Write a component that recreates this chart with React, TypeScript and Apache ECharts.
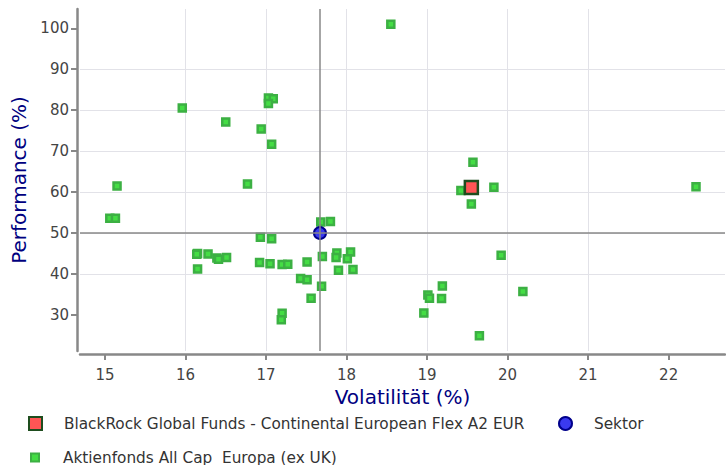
import React, { useEffect, useRef } from "react";
import * as echarts from "echarts";

const fundName = "BlackRock Global Funds - Continental European Flex A2 EUR";
const sectorName = "Sektor";
const peerName = "Aktienfonds All Cap  Europa (ex UK)";

const xTicks = [15, 16, 17, 18, 19, 20, 21, 22];
const yTicks = [30, 40, 50, 60, 70, 80, 90, 100];

const fundPoint = [19.55, 61.1];
const sectorPoint = [17.67, 50.0];

const peerVol = [
  18.55, 15.96, 16.5, 16.94, 17.03, 17.09, 17.03, 17.07, 16.77, 15.15,
  15.06, 15.13, 16.15, 16.14, 16.28, 16.39, 16.41, 16.51, 16.15, 17.68,
  17.8, 16.93, 17.07, 16.92, 17.05, 17.2, 17.27, 17.51, 17.7, 17.88,
  17.87, 18.05, 18.01, 17.9, 18.08, 17.43, 17.51, 17.69, 17.56, 17.2,
  17.19, 19.01, 19.03, 19.19, 19.18, 18.96, 19.65, 19.42, 19.83, 19.55,
  19.57, 19.92, 20.19, 22.34,
];
const peerPerf = [
  101.0, 80.5, 77.1, 75.4, 83.0, 82.8, 81.6, 71.7, 62.0, 61.5,
  53.6, 53.6, 45.0, 44.8, 44.9, 43.9, 43.6, 44.0, 41.2, 52.7,
  52.8, 49.0, 48.6, 42.8, 42.5, 42.3, 42.4, 42.9, 44.3, 45.1,
  44.0, 45.4, 43.7, 40.9, 41.1, 38.9, 38.6, 37.0, 34.1, 30.4,
  28.8, 34.9, 34.1, 37.1, 34.0, 30.5, 24.9, 60.4, 61.2, 57.1,
  67.3, 44.6, 35.7, 61.3,
];

const FONT = "DejaVu Sans";

export default function App() {
  const ref = useRef<HTMLDivElement>(null);
  useEffect(() => {
    if (!ref.current) return;
    const chart = echarts.init(ref.current, undefined, { renderer: "svg" });
    const peerData = peerVol.map((v, i) => [v, peerPerf[i]]);
    const axisCommon = {
      type: "value" as const,
      offset: 3,
      axisLine: { show: true, lineStyle: { color: "#888", width: 2.5 } },
      axisTick: { show: true, length: 6, lineStyle: { color: "#888", width: 2 } },
      splitLine: {
        show: true,
        showMinLine: false,
        showMaxLine: false,
        lineStyle: { color: "#e2e2e8", width: 1 },
      },
      nameLocation: "middle" as const,
      nameTextStyle: { color: "#000080", fontSize: 20, fontFamily: FONT },
    };
    chart.setOption({
      animation: false,
      grid: { left: 80, right: 1, top: 9, bottom: 114, containLabel: false },
      xAxis: {
        ...axisCommon,
        min: 14.69,
        max: 22.7,
        splitNumber: 8,
        name: "Volatilität (%)",
        nameGap: 31,
        axisTick: { ...axisCommon.axisTick, customValues: xTicks },
        axisLabel: {
          customValues: xTicks,
          margin: 13,
          color: "#444",
          fontSize: 15,
          fontFamily: FONT,
        },
      },
      yAxis: {
        ...axisCommon,
        min: 21.2,
        max: 104.7,
        splitNumber: 8,
        name: "Performance (%)",
        nameGap: 48,
        axisTick: { ...axisCommon.axisTick, customValues: yTicks },
        axisLabel: {
          customValues: yTicks,
          margin: 8,
          color: "#444",
          fontSize: 15,
          fontFamily: FONT,
        },
      },
      legend: [
        {
          data: [fundName],
          left: 28,
          top: 416,
          padding: 0,
          itemWidth: 13,
          itemHeight: 13,
          icon: "rect",
          textStyle: { color: "#333", fontSize: 15.3, fontFamily: FONT, padding: [0, 0, 0, 17] },
        },
        {
          data: [sectorName],
          left: 558,
          top: 416,
          padding: 0,
          itemWidth: 13,
          itemHeight: 13,
          icon: "circle",
          textStyle: { color: "#333", fontSize: 15.3, fontFamily: FONT, padding: [0, 0, 0, 17] },
        },
        {
          data: [peerName],
          left: 30,
          top: 450,
          padding: 0,
          itemWidth: 8,
          itemHeight: 8,
          icon: "rect",
          textStyle: { color: "#333", fontSize: 15.3, fontFamily: FONT, padding: [0, 0, 0, 19] },
        },
      ],
      series: [
        {
          name: peerName,
          type: "scatter",
          symbol: "rect",
          symbolSize: 7,
          data: peerData,
          itemStyle: { color: "#44dd44", borderColor: "#3cb043", borderWidth: 2.5, opacity: 1 },
          z: 2,
        },
        {
          name: sectorName,
          type: "scatter",
          symbol: "circle",
          symbolSize: 12,
          data: [sectorPoint],
          itemStyle: { color: "#3a3af0", borderColor: "#00008b", borderWidth: 2, opacity: 1 },
          markLine: {
            silent: true,
            symbol: "none",
            label: { show: false },
            lineStyle: { color: "#888", width: 1.5, type: "solid" },
            data: [{ xAxis: sectorPoint[0] }, { yAxis: sectorPoint[1] }],
          },
          z: 3,
        },
        {
          name: fundName,
          type: "scatter",
          symbol: "rect",
          symbolSize: 13,
          data: [fundPoint],
          itemStyle: { color: "#ff5555", borderColor: "#1e4d1e", borderWidth: 2.5, opacity: 1 },
          z: 4,
        },
      ],
    });
    return () => chart.dispose();
  }, []);
  return (
    <div
      ref={ref}
      style={{ position: "absolute", left: 0, top: 0, width: 726, height: 465 }}
    />
  );
}
